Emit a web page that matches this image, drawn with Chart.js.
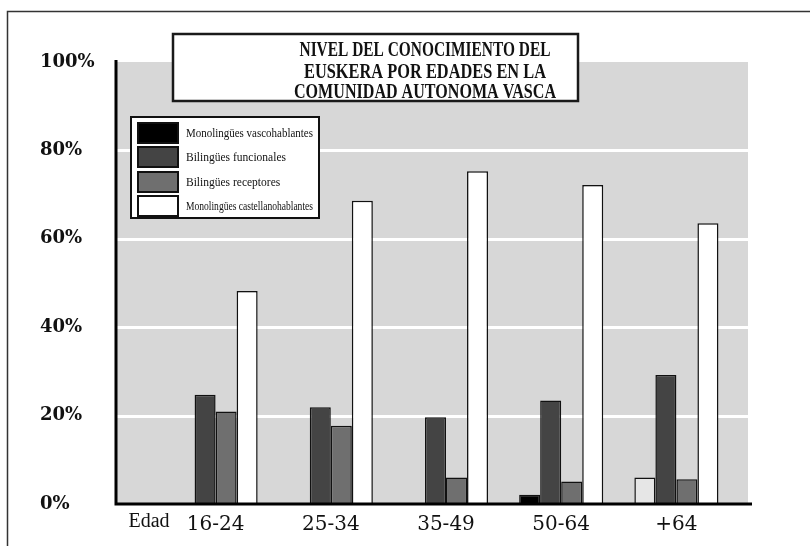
<!DOCTYPE html>
<html>
<head>
<meta charset="utf-8">
<script src="https://cdn.jsdelivr.net/npm/chart.js@4"></script>
<style>
  html, body { margin: 0; padding: 0; background: #fff; }
  #wrap { width: 810px; height: 546px; position: relative; }
</style>
</head>
<body>
<div id="wrap"><canvas id="c" width="810" height="546"></canvas></div>
<script>
// Grupos de edad y porcentajes por tipo de hablante
const edades = ['16-24', '25-34', '35-49', '50-64', '+64'];
const yTickLabels = ['0%', '20%', '40%', '60%', '80%', '100%'];
const tituloLineas = ['NIVEL DEL CONOCIMIENTO DEL', 'EUSKERA POR EDADES EN LA', 'COMUNIDAD AUTONOMA VASCA'];
const ejeX = 'Edad';
const series = ['Monolingües vascohablantes', 'Bilingües funcionales', 'Bilingües receptores', 'Monolingües castellanohablantes'];

const monoVasco      = [0, 0, 0, 2.1, 6.0];
const biFuncional    = [24.7, 21.9, 19.6, 23.4, 29.2];
const biReceptor     = [20.9, 17.7, 6.0, 5.1, 5.6];
const monoCastellano = [48.2, 68.6, 75.3, 72.2, 63.5];

const colores = ['#000000', '#444444', '#6f6f6f', '#ffffff'];
const coloresVasco = ['#000000', '#000000', '#000000', '#000000', '#e6e6e6'];

const SERIF = '"Liberation Serif", "Times New Roman", serif';

// Fondo gris, rejilla blanca, ejes, recuadro del título y leyenda
const decorado = {
  id: 'decorado',
  beforeDatasetsDraw(chart) {
    const { ctx, chartArea: a, scales: { y } } = chart;
    const izq = 115, der = 748;
    ctx.save();
    ctx.strokeStyle = '#333';
    ctx.lineWidth = 1.5;
    ctx.strokeRect(7.5, 11.5, 1000, 1000);
    ctx.fillStyle = '#d7d7d7';
    ctx.fillRect(izq, a.top, der - izq, a.bottom - a.top);
    ctx.strokeStyle = '#ffffff';
    ctx.lineWidth = 3;
    y.ticks.forEach(t => {
      if (t.value > 0 && t.value < 100) {
        const py = Math.round(y.getPixelForValue(t.value)) + 0.5;
        ctx.beginPath();
        ctx.moveTo(izq, py);
        ctx.lineTo(der, py);
        ctx.stroke();
      }
    });
    ctx.restore();
  },
  afterDatasetsDraw(chart) {
    const { ctx, chartArea: a } = chart;
    ctx.save();
    ctx.strokeStyle = '#000';
    ctx.lineWidth = 3;
    ctx.beginPath();
    ctx.moveTo(116, a.top - 2);
    ctx.lineTo(116, a.bottom + 1.5);
    ctx.moveTo(114.5, a.bottom);
    ctx.lineTo(752, a.bottom);
    ctx.stroke();
    ctx.restore();
  },
  afterDraw(chart) {
    const { ctx, chartArea: a } = chart;
    ctx.save();

    // Recuadro del título
    ctx.fillStyle = '#fff';
    ctx.fillRect(173, 34, 405, 67);
    ctx.strokeStyle = '#1a1a1a';
    ctx.lineWidth = 2.5;
    ctx.strokeRect(173, 34, 405, 67);
    ctx.fillStyle = '#111';
    ctx.font = 'bold 20px ' + SERIF;
    ctx.textAlign = 'center';
    ctx.textBaseline = 'alphabetic';
    const base = [56, 78, 98];
    const anchos = [251, 242, 262];
    tituloLineas.forEach((l, i) => ctx.fillText(l, 425, base[i], anchos[i]));

    // Leyenda
    ctx.fillStyle = '#fff';
    ctx.fillRect(131, 117, 188, 101);
    ctx.strokeStyle = '#111';
    ctx.lineWidth = 2;
    ctx.strokeRect(131, 117, 188, 101);
    const tops = [122, 146, 171, 195];
    ctx.font = '11.5px ' + SERIF;
    ctx.textAlign = 'left';
    ctx.textBaseline = 'middle';
    chart.data.datasets.forEach((ds, i) => {
      ctx.fillStyle = ds.legendColor;
      ctx.fillRect(137, tops[i], 42, 22);
      ctx.strokeStyle = '#111';
      ctx.lineWidth = 2;
      ctx.strokeRect(138, tops[i] + 1, 40, 20);
      ctx.fillStyle = '#111';
      ctx.fillText(ds.label, 186, tops[i] + 12, 127);
    });

    // Rótulo del eje horizontal
    ctx.font = '20px ' + SERIF;
    ctx.textAlign = 'center';
    ctx.textBaseline = 'middle';
    ctx.fillStyle = '#111';
    ctx.fillText(ejeX, 149, a.bottom + 18);
    ctx.restore();
  }
};

const valores = [monoVasco, biFuncional, biReceptor, monoCastellano];

new Chart(document.getElementById('c'), {
  type: 'bar',
  data: {
    labels: edades,
    datasets: series.map((s, i) => ({
      label: s,
      data: valores[i],
      backgroundColor: i === 0 ? coloresVasco : colores[i],
      legendColor: colores[i],
      borderColor: '#111',
      borderWidth: 1.5
    }))
  },
  options: {
    responsive: false,
    animation: false,
    layout: { padding: { left: 40, right: 76, top: 62, bottom: 0 } },
    plugins: {
      legend: { display: false },
      title: { display: false },
      tooltip: { enabled: false }
    },
    datasets: { bar: { categoryPercentage: 0.73, barPercentage: 1.0 } },
    scales: {
      x: {
        grid: { display: false, drawTicks: false },
        border: { display: false },
        ticks: {
          padding: 9,
          color: '#111',
          font: { family: '"DejaVu Serif", serif', size: 20 }
        },
        afterFit(s) { s.height = 42; }
      },
      y: {
        min: 0,
        max: 100,
        grid: { display: false },
        border: { display: false },
        ticks: {
          stepSize: 20,
          crossAlign: 'far',
          padding: 0,
          color: '#111',
          font: { family: '"DejaVu Serif", serif', size: 18, weight: 'bold' },
          callback: (v, i) => yTickLabels[i]
        },
        afterFit(s) { s.width = 118; }
      }
    }
  },
  plugins: [decorado]
});
</script>
</body>
</html>
